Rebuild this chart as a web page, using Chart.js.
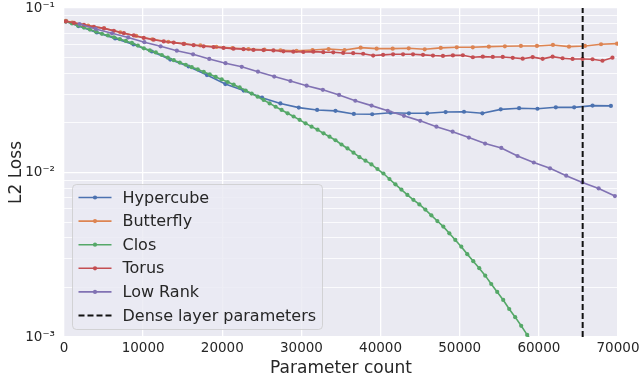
<!DOCTYPE html>
<html>
<head>
<meta charset="utf-8">
<script src="https://cdn.jsdelivr.net/npm/chart.js@4/dist/chart.umd.min.js"></script>
<style>
  html, body { margin: 0; padding: 0; background: #fff; }
  canvas { display: block; }
</style>
</head>
<body>
<canvas id="chart" width="640" height="380"></canvas>
<script>
// data
const hypercubeX = [250, 1823, 4143, 6463, 8783, 11103, 13423, 15743, 18063, 20383, 22703, 25023, 27343, 29663, 31983, 34303,
    36623, 38943, 41263, 43583, 45903, 48223, 50543, 52863, 55183, 57503, 59823, 62143, 64463, 66783, 69103];
const hypercubeY = [0.0828, 0.0777, 0.0710, 0.0653, 0.0600, 0.0544, 0.0486, 0.0441, 0.0391, 0.0345, 0.0315, 0.0285, 0.0263, 0.0248, 0.0240, 0.0237,
    0.0227, 0.0226, 0.0231, 0.0229, 0.0229, 0.0233, 0.0234, 0.0229, 0.0242, 0.0246, 0.0244, 0.0249, 0.0249, 0.0255, 0.0254];

const butterflyX = [250, 1030, 3056, 5081, 7106, 9131, 11156, 13181, 15206, 17231, 19256, 21281, 23306, 25331, 27356,
    29381, 31406, 33431, 35456, 37481, 39506, 41531, 43556, 45581, 47606, 49631, 51656, 53681, 55706, 57731, 59756,
    61781, 63806, 65831, 67856, 69881];
const butterflyY = [0.0835, 0.0815, 0.0782, 0.0752, 0.0712, 0.0676, 0.0645, 0.0623, 0.0606, 0.0592, 0.0580, 0.0570, 0.0563, 0.0558, 0.0553,
    0.0549, 0.0555, 0.0563, 0.0555, 0.0574, 0.0566, 0.0566, 0.0569, 0.0561, 0.0572, 0.0577, 0.0577, 0.0582, 0.0585, 0.0588, 0.0588,
    0.0596, 0.0582, 0.0588, 0.0602, 0.0607];

const closX = [252, 1009, 1766, 2523, 3279, 4036, 4793, 5550, 6307, 7063, 7820, 8577, 9334, 10090, 10847, 11604,
    12361, 13118, 13874, 14631, 15388, 16145, 16901, 17658, 18415, 19172, 19929, 20685, 21442, 22199, 22956, 23712,
    24469, 25226, 25983, 26740, 27496, 28253, 29010, 29767, 30523, 31280, 32037, 32794, 33551, 34307, 35064, 35821,
    36578, 37334, 38091, 38848, 39605, 40362, 41118, 41875, 42632, 43389, 44146, 44902, 45659, 46416, 47173, 47929,
    48686, 49443, 50200, 50957, 51713, 52470, 53227, 53984, 54740, 55497, 56254, 57011, 57768, 58524, 59281];
const closY = [0.0828, 0.0805, 0.0782, 0.0760, 0.0739, 0.0717, 0.0697, 0.0681, 0.0664, 0.0647, 0.0631, 0.0613, 0.0591, 0.0569, 0.0552, 0.0537,
    0.0518, 0.0499, 0.0482, 0.0466, 0.0452, 0.0437, 0.0424, 0.0409, 0.0395, 0.0381, 0.0368, 0.0355, 0.0342, 0.0329, 0.0315, 0.0302,
    0.0289, 0.0276, 0.0263, 0.0251, 0.0240, 0.0229, 0.0219, 0.0209, 0.0199, 0.0190, 0.0182, 0.0173, 0.0165, 0.0157, 0.0148, 0.0140,
    0.0132, 0.0124, 0.0118, 0.0112, 0.0105, 0.00986, 0.00913, 0.00848, 0.00787, 0.00731, 0.00682, 0.00640, 0.00595, 0.00549, 0.00507, 0.00469,
    0.00427, 0.00389, 0.00354, 0.00319, 0.00289, 0.00262, 0.00236, 0.00210, 0.00188, 0.00168, 0.00148, 0.00132, 0.00117, 0.00103, 0.00092];

const torusX = [250, 1260, 2520, 3780, 5040, 6300, 7560, 8820, 10080, 11340, 12600, 13860, 15120, 16380, 17640, 18900, 20160,
    21420, 22680, 23940, 25200, 26460, 27720, 28980, 30240, 31500, 32760, 34020, 35280, 36540, 37800, 39060, 40320,
    41580, 42840, 44100, 45360, 46620, 47880, 49140, 50400, 51660, 52920, 54180, 55440, 56700, 57960, 59220, 60480,
    61740, 63000, 64260, 65520, 66780, 68040, 69300];
const torusY = [0.0830, 0.0812, 0.0790, 0.0768, 0.0752, 0.0727, 0.0703, 0.0681, 0.0658, 0.0641, 0.0626, 0.0616, 0.0605, 0.0594, 0.0585, 0.0579, 0.0572,
    0.0566, 0.0562, 0.0556, 0.0555, 0.0552, 0.0545, 0.0543, 0.0540, 0.0543, 0.0539, 0.0538, 0.0533, 0.0531, 0.0527, 0.0514, 0.0519,
    0.0523, 0.0523, 0.0523, 0.0519, 0.0514, 0.0511, 0.0515, 0.0516, 0.0502, 0.0506, 0.0504, 0.0504, 0.0498, 0.0492, 0.0503, 0.0491,
    0.0506, 0.0495, 0.0490, 0.0490, 0.0488, 0.0478, 0.0499];

const lowRankX = [1958, 4008, 6058, 8108, 10158, 12208, 14258, 16308, 18358, 20408, 22458, 24508, 26558, 28608, 30658, 32708,
    34758, 36808, 38858, 40908, 42958, 45008, 47058, 49108, 51158, 53208, 55258, 57308, 59358, 61408, 63458, 65508,
    67558, 69608];
const lowRankY = [0.0799, 0.0746, 0.0702, 0.0662, 0.0620, 0.0585, 0.0550, 0.0523, 0.0490, 0.0462, 0.0439, 0.0410, 0.0383, 0.0360, 0.0337, 0.0318,
    0.0296, 0.0273, 0.0255, 0.0237, 0.0221, 0.0206, 0.0190, 0.0177, 0.0163, 0.0150, 0.0141, 0.0126, 0.0115, 0.0106, 0.00956, 0.00870,
    0.00800, 0.00719];

const denseParams = 65536;

const seriesNames = ['Hypercube', 'Butterfly', 'Clos', 'Torus', 'Low Rank'];
const seriesColors = ['#4C72B0', '#DD8452', '#55A868', '#C44E52', '#8172B3'];
const xTicks = [0, 10000, 20000, 30000, 40000, 50000, 60000, 70000];

const FONT = "'DejaVu Sans', sans-serif";
const TEXT = '#262626';

function toPoints(xs, ys) {
    return xs.map((x, i) => ({x: x, y: ys[i]}));
}

function isDecade(v) {
    const l = Math.log10(v);
    return Math.abs(l - Math.round(l)) < 1e-6;
}

const sup = {'-1': '\u207B\u00B9', '-2': '\u207B\u00B2', '-3': '\u207B\u00B3'};

const lineSets = [
    [hypercubeX, hypercubeY], [butterflyX, butterflyY], [closX, closY], [torusX, torusY], [lowRankX, lowRankY]
].map((xy, i) => ({
    label: seriesNames[i],
    data: toPoints(xy[0], xy[1]),
    borderColor: seriesColors[i],
    backgroundColor: seriesColors[i],
    borderWidth: 1.6,
    pointRadius: 2.1,
    pointBorderWidth: 0,
    pointBackgroundColor: seriesColors[i],
    order: 10 - i
}));

lineSets.push({
    label: 'Dense layer parameters',
    data: [{x: denseParams, y: 0.001}, {x: denseParams, y: 0.1}],
    borderColor: '#111',
    borderWidth: 2,
    borderDash: [6, 3],
    pointRadius: 0,
    order: 0
});

const plotBg = {
    id: 'plotBg',
    beforeDraw(chart) {
        const a = chart.chartArea;
        const ctx = chart.ctx;
        ctx.save();
        ctx.fillStyle = '#EAEAF2';
        ctx.fillRect(a.left, a.top, a.right - a.left, a.bottom - a.top);
        ctx.restore();
    }
};

const boxLegend = {
    id: 'boxLegend',
    afterDatasetsDraw(chart) {
        const ctx = chart.ctx;
        const a = chart.chartArea;
        const x0 = a.left + 8.5, y0 = a.bottom - 152.5, w = 250, h = 145;
        ctx.save();
        ctx.beginPath();
        ctx.roundRect(x0, y0, w, h, 4);
        ctx.fillStyle = 'rgba(234,234,242,0.8)';
        ctx.fill();
        ctx.strokeStyle = 'rgba(204,204,204,0.8)';
        ctx.lineWidth = 1;
        ctx.stroke();

        ctx.font = '16px ' + FONT;
        ctx.textBaseline = 'middle';
        chart.data.datasets.forEach((ds, i) => {
            const y = y0 + 13 + i * 23.6;
            const lx = x0 + 6;
            ctx.beginPath();
            ctx.setLineDash(ds.borderDash || []);
            ctx.strokeStyle = ds.borderColor;
            ctx.lineWidth = ds.borderWidth;
            ctx.moveTo(lx, y);
            ctx.lineTo(lx + 33, y);
            ctx.stroke();
            ctx.setLineDash([]);
            if (ds.pointRadius) {
                ctx.beginPath();
                ctx.arc(lx + 16.5, y, 2.1, 0, Math.PI * 2);
                ctx.fillStyle = ds.borderColor;
                ctx.fill();
            }
            ctx.fillStyle = TEXT;
            ctx.fillText(ds.label, x0 + 50, y + 1);
        });
        ctx.restore();
    }
};

new Chart(document.getElementById('chart'), {
    type: 'line',
    data: {datasets: lineSets},
    options: {
        responsive: false,
        animation: false,
        devicePixelRatio: 1,
        layout: {padding: {top: 8, right: 22, left: 0, bottom: 0}},
        plugins: {legend: {display: false}, tooltip: {enabled: false}},
        elements: {line: {tension: 0}},
        scales: {
            x: {
                type: 'linear',
                min: 0,
                max: 70000,
                afterBuildTicks: (scale) => { scale.ticks = xTicks.map(v => ({value: v})); },
                afterFit: (scale) => {
                    scale.height = 43;
                    scale.paddingLeft = 0;
                    scale.paddingRight = 0;
                },
                ticks: {
                    color: TEXT,
                    font: {family: FONT, size: 13.5},
                    padding: 3,
                    maxRotation: 0,
                    callback: (v) => String(v)
                },
                grid: {color: '#FFFFFF', lineWidth: 1.3, drawTicks: false},
                border: {display: false},
                title: {
                    display: true,
                    text: 'Parameter count',
                    color: TEXT,
                    font: {family: FONT, size: 17},
                    padding: {top: 0, bottom: 1}
                }
            },
            y: {
                type: 'logarithmic',
                min: 0.001,
                max: 0.1,
                afterBuildTicks: (scale) => {
                    const t = [];
                    [0.001, 0.01].forEach(d => {
                        for (let k = 1; k < 10; k++) t.push({value: +(d * k).toPrecision(3)});
                    });
                    t.push({value: 0.1});
                    scale.ticks = t;
                },
                afterFit: (scale) => {
                    scale.width = 64;
                    scale.paddingTop = 0;
                    scale.paddingBottom = 0;
                },
                ticks: {
                    color: TEXT,
                    font: {family: FONT, size: 13.5},
                    padding: 9,
                    autoSkip: false,
                    callback: (v) => isDecade(v) ? '10' + sup[String(Math.round(Math.log10(v)))] : ''
                },
                grid: {
                    color: '#FFFFFF',
                    drawTicks: false,
                    lineWidth: (c) => isDecade(c.tick.value) ? 1.3 : 0.8
                },
                border: {display: false},
                title: {
                    display: true,
                    text: 'L2 Loss',
                    color: TEXT,
                    font: {family: FONT, size: 17},
                    padding: {top: 6, bottom: 0}
                }
            }
        }
    },
    plugins: [plotBg, boxLegend]
});
</script>
</body>
</html>
